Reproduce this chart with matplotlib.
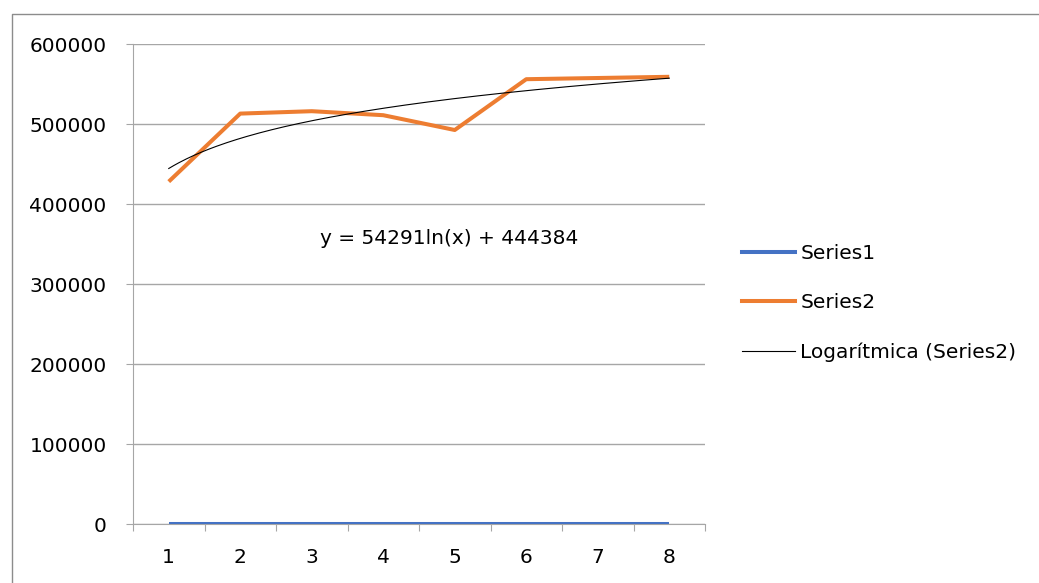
import numpy as np
import matplotlib.pyplot as plt
from matplotlib.lines import Line2D

plt.rcParams['font.family'] = ['DejaVu Sans']

categories = [1, 2, 3, 4, 5, 6, 7, 8]
series1 = [0, 0, 0, 0, 0, 0, 0, 0]
series2 = [428000, 513000, 516000, 511000, 492500, 556000, 557500, 559000]
# logarithmic trendline of Series2: y = a*ln(x) + b
trend_a = 54291
trend_b = 444384

fs = 14.5
fig = plt.figure(figsize=(10.39, 5.83), dpi=100)
ax = fig.add_axes([133 / 1039, 1 - 524 / 583, 572 / 1039, 480 / 583])

grid_col = '#a6a6a6'
ax.plot(categories, series1, color='#4472c4', lw=2.9, solid_capstyle='butt', zorder=3)
ax.plot(categories, series2, color='#ed7d31', lw=2.9, solid_capstyle='butt', zorder=3)
xs = np.linspace(categories[0], categories[-1], 200)
ax.plot(xs, trend_a * np.log(xs) + trend_b, color='black', lw=0.8, zorder=4)

ax.set_xlim(0.5, 8.5)
ax.set_ylim(0, 600000)
ax.set_yticks(range(0, 600001, 100000))
ax.set_yticklabels([str(v) for v in range(0, 600001, 100000)], fontsize=fs)
ax.set_xticks(np.arange(0.5, 8.6, 1))
ax.set_xticklabels([])
ax.set_xticks(categories, minor=True)
ax.set_xticklabels([str(c) for c in categories], minor=True, fontsize=fs)
ax.tick_params(axis='x', which='major', length=5, color=grid_col, direction='out')
ax.tick_params(axis='x', which='minor', length=0, pad=17)
ax.tick_params(axis='y', length=5, color=grid_col, pad=14)
ax.grid(axis='y', color=grid_col, lw=1)
for side in ['top', 'right']:
    ax.spines[side].set_visible(False)
for side in ['left', 'bottom']:
    ax.spines[side].set_color(grid_col)

ax.text(449, 583 - 238, 'y = 54291ln(x) + 444384', transform=None, fontsize=fs,
        ha='center', va='center')

handles = [
    Line2D([], [], color='#4472c4', lw=2.9),
    Line2D([], [], color='#ed7d31', lw=2.9),
    Line2D([], [], color='black', lw=0.8),
]
fig.legend(handles, ['Series1', 'Series2', 'Logarítmica (Series2)'],
           loc='center left', bbox_to_anchor=(742 / 1039, 1 - 303 / 583),
           frameon=False, fontsize=fs, handlelength=2.64, handletextpad=0.25,
           labelspacing=1.5, borderpad=0, borderaxespad=0)

# chart outline
fig.add_artist(Line2D([12 / 1039, 12 / 1039, 1], [0, 1 - 14 / 583, 1 - 14 / 583],
                      transform=fig.transFigure, color='#8c8c8c', lw=1))

fig.savefig('out.png', dpi=100)
